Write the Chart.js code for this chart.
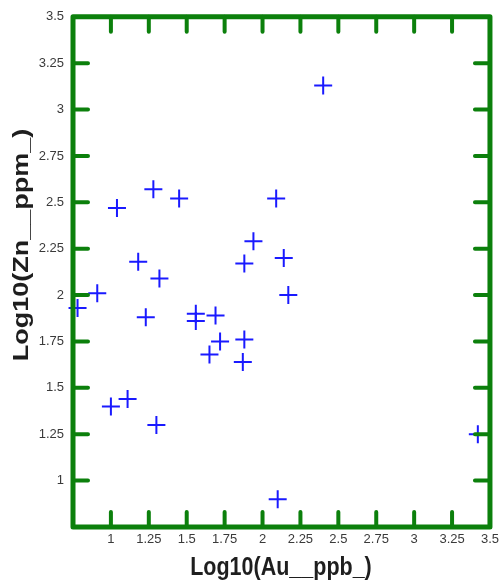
<!DOCTYPE html>
<html>
<head>
<meta charset="utf-8">
<script src="https://cdn.jsdelivr.net/npm/chart.js@4.4.1/dist/chart.umd.min.js"></script>
<style>
  html, body { margin: 0; padding: 0; background: #fff; }
  #wrap { width: 504px; height: 588px; position: relative; }
</style>
</head>
<body>
<div id="wrap"><canvas id="plot" width="504" height="588"></canvas></div>
<script>
// values
const auLog = [1.04, 1.28, 1.45, 1.18, 1.32, 0.91, 0.78, 1.23, 1.56, 1.56, 1.00, 1.11, 1.30,
  2.09, 1.94, 1.88, 2.14, 2.17, 1.69, 1.72, 1.65, 1.88, 1.87, 2.40, 3.42, 2.10];
const znLog = [2.47, 2.57, 2.52, 2.18, 2.09, 2.01, 1.93, 1.88, 1.90, 1.86, 1.40, 1.44, 1.30,
  2.52, 2.29, 2.17, 2.20, 2.00, 1.89, 1.75, 1.68, 1.76, 1.64, 3.13, 1.25, 0.90];
const axisMin = 0.75, axisMax = 3.5, axisStep = 0.25;
const xTitle = 'Log10(Au__ppb_)';
const yTitle = 'Log10(Zn__ppm_)';

const GREEN = '#0c800c';
const BLUE = '#1a1aff';
const TICK_FONT = { family: "'Liberation Sans Narrow', 'Liberation Sans', Arial, sans-serif", size: 13 };

const fmt = v => (Math.abs(v - axisMin) < 1e-9) ? '' : String(+v.toFixed(2));

// frame with inward ticks on all four sides, plus axis titles
const framePlugin = {
  id: 'frame',
  afterDraw(chart) {
    const { ctx, chartArea: a, scales: { x, y } } = chart;
    const len = 15;
    ctx.save();
    ctx.strokeStyle = GREEN;
    ctx.lineCap = 'round';
    ctx.lineJoin = 'round';
    ctx.lineWidth = 4;
    x.ticks.forEach(t => {
      if (t.value <= axisMin || t.value >= axisMax) return;
      const px = x.getPixelForValue(t.value);
      ctx.beginPath();
      ctx.moveTo(px, a.bottom); ctx.lineTo(px, a.bottom - len);
      ctx.moveTo(px, a.top); ctx.lineTo(px, a.top + len);
      ctx.stroke();
    });
    y.ticks.forEach(t => {
      if (t.value <= axisMin || t.value >= axisMax) return;
      const py = y.getPixelForValue(t.value);
      ctx.beginPath();
      ctx.moveTo(a.left, py); ctx.lineTo(a.left + len, py);
      ctx.moveTo(a.right, py); ctx.lineTo(a.right - len, py);
      ctx.stroke();
    });
    ctx.lineWidth = 5;
    ctx.strokeRect(a.left, a.top, a.right - a.left, a.bottom - a.top);
    ctx.restore();

    // titles, stretched a bit along the vertical like the source image
    ctx.save();
    ctx.fillStyle = '#1e1e1e';
    ctx.textAlign = 'center';
    ctx.textBaseline = 'alphabetic';
    ctx.font = "bold 21.5px 'Liberation Sans', Arial, sans-serif";
    ctx.translate(281, 575);
    ctx.scale(1, 1.2);
    ctx.fillText(xTitle, 0, 0);
    ctx.restore();

    ctx.save();
    ctx.fillStyle = '#1e1e1e';
    ctx.textAlign = 'center';
    ctx.textBaseline = 'alphabetic';
    ctx.font = "bold 22.5px 'Liberation Sans', Arial, sans-serif";
    ctx.translate(28, 245);
    ctx.rotate(-Math.PI / 2);
    ctx.scale(1.2, 1);
    ctx.fillText(yTitle, 0, 0);
    ctx.restore();
  }
};

new Chart(document.getElementById('plot').getContext('2d'), {
  type: 'scatter',
  data: {
    datasets: [{
      data: auLog.map((v, i) => ({ x: v, y: znLog[i] })),
      pointStyle: 'cross',
      pointRadius: 9,
      pointHoverRadius: 9,
      borderColor: BLUE,
      backgroundColor: BLUE,
      borderWidth: 2,
      clip: false
    }]
  },
  options: {
    responsive: false,
    animation: false,
    events: [],
    layout: { padding: { top: 13, right: 13, left: 0, bottom: 0 } },
    plugins: { legend: { display: false }, tooltip: { enabled: false } },
    scales: {
      x: {
        type: 'linear', min: axisMin, max: axisMax,
        border: { display: false },
        grid: { display: false, drawTicks: false },
        ticks: { stepSize: axisStep, padding: 5, color: '#3a3a3a', font: TICK_FONT, maxRotation: 0, autoSkip: false, callback: fmt },
        afterFit: s => { s.height = 61; }
      },
      y: {
        type: 'linear', min: axisMin, max: axisMax,
        border: { display: false },
        grid: { display: false, drawTicks: false },
        ticks: { stepSize: axisStep, padding: 9, color: '#3a3a3a', font: TICK_FONT, autoSkip: false, callback: fmt },
        afterFit: s => { s.width = 73; }
      }
    }
  },
  plugins: [framePlugin]
});
</script>
</body>
</html>
